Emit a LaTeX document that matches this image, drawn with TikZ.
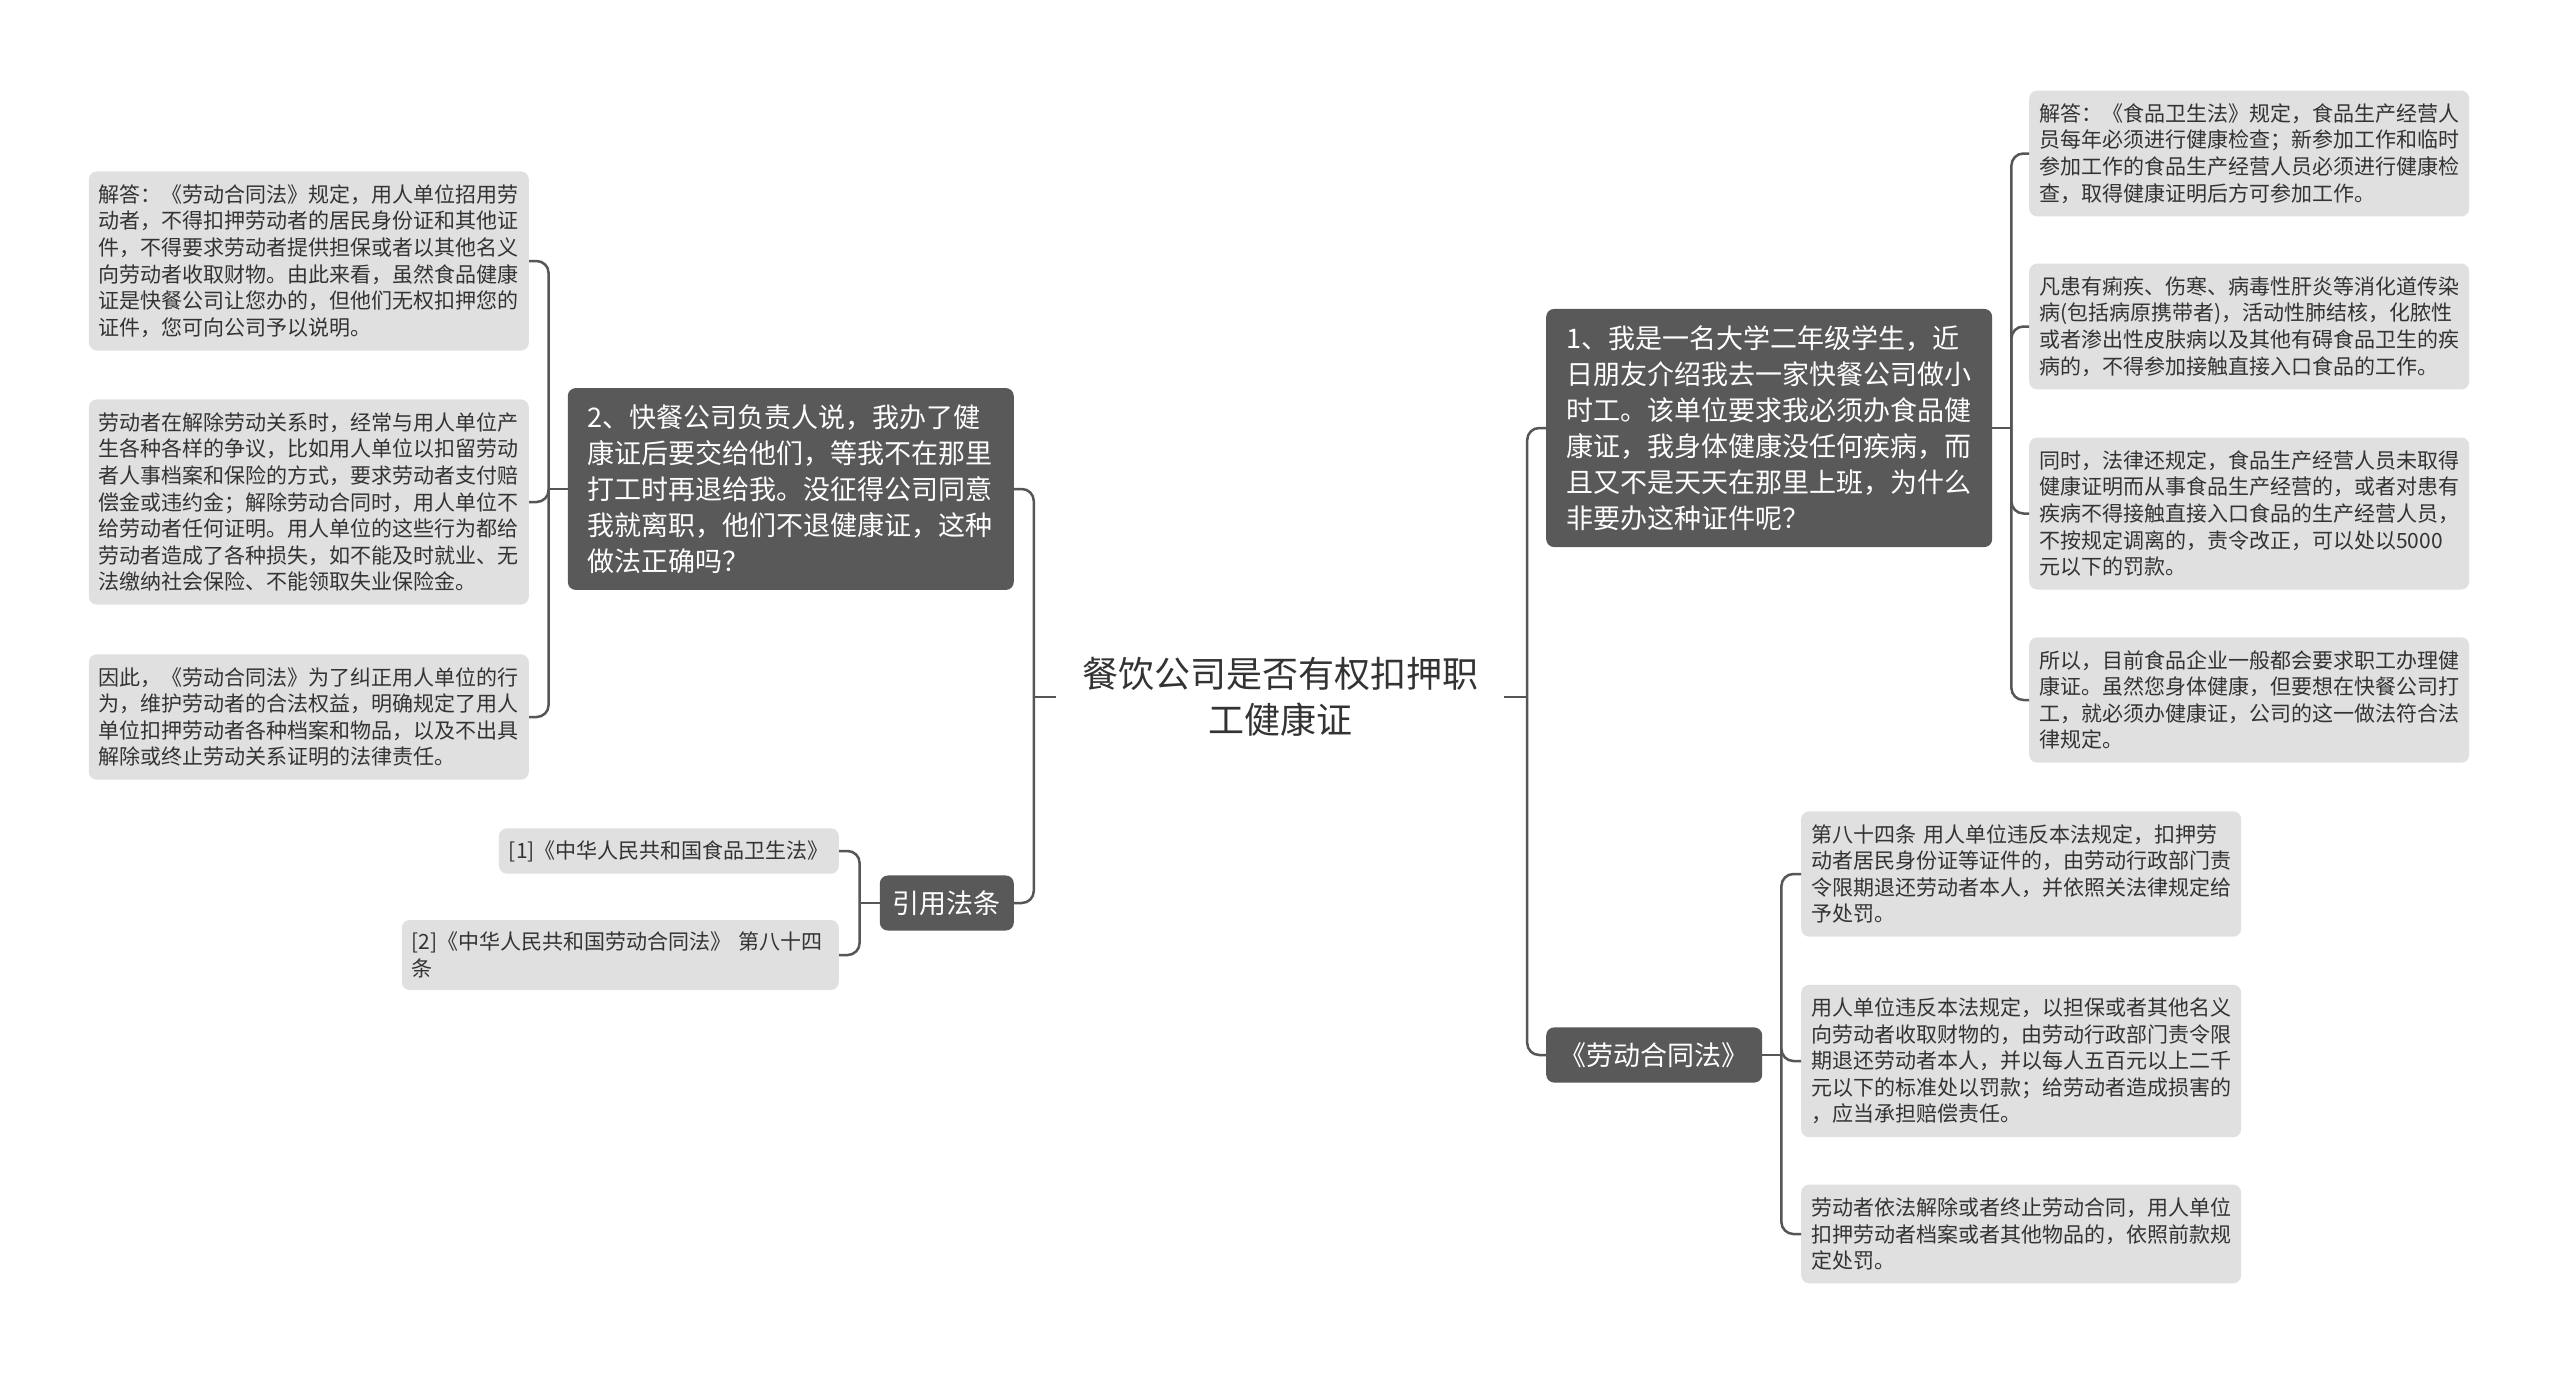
\documentclass[tikz,border=0pt]{standalone}
\usepackage{fontspec}
\setmainfont{Noto Sans CJK SC}
\usetikzlibrary{calc}
\definecolor{darkbox}{HTML}{595959}
\definecolor{leaffill}{HTML}{E0E0E0}
\definecolor{linecol}{HTML}{565656}
\definecolor{txt}{HTML}{333333}
\begin{document}
\begin{tikzpicture}[x=1pt,y=-1pt,
  leaf/.style={fill=leaffill, rounded corners=8pt, text=txt, font=\fontsize{21}{26.6}\selectfont, align=left, text width=420pt, inner xsep=10pt, inner ysep=13pt},
  cite/.style={fill=leaffill, rounded corners=8pt, text=txt, font=\fontsize{21}{26.6}\selectfont, align=left, inner xsep=10pt, inner ysep=12pt},
  topic/.style={fill=darkbox, rounded corners=8pt, text=white, font=\fontsize{27}{36}\selectfont, align=left, inner xsep=20pt, inner ysep=16.5pt},
  conn/.style={draw=linecol, line width=2.5pt, rounded corners=12pt}]
\useasboundingbox (0,0) rectangle (2560,1376);
\fill[white] (0,0) rectangle (2560,1376);

% central topic
\node[text=txt, font=\fontsize{36}{46}\selectfont, align=center, text width=396pt, inner xsep=26pt, inner ysep=8pt] (c) at (1280,697) {餐饮公司是否有权扣押职\\工健康证};

% left main nodes
\node[topic, text width=406pt, anchor=east] (n2) at (1014,489) {2、快餐公司负责人说，我办了健\\康证后要交给他们，等我不在那里\\打工时再退给我。没征得公司同意\\我就离职，他们不退健康证，这种\\做法正确吗？};
\node[topic, inner xsep=13pt, inner ysep=15pt, anchor=east] (yy) at (1014,903) {引用法条};

% right main nodes
\node[topic, text width=406pt, anchor=west] (n1) at (1546,428) {1、我是一名大学二年级学生，近\\日朋友介绍我去一家快餐公司做小\\时工。该单位要求我必须办食品健\\康证，我身体健康没任何疾病，而\\且又不是天天在那里上班，为什么\\非要办这种证件呢？};
\node[topic, inner xsep=13.5pt, inner ysep=15pt, anchor=west] (law) at (1546,1055) {《劳动合同法》};

% leaves of n2
\node[leaf, anchor=east] (l1) at (529,261) {解答：《劳动合同法》规定，用人单位招用劳\\动者，不得扣押劳动者的居民身份证和其他证\\件，不得要求劳动者提供担保或者以其他名义\\向劳动者收取财物。由此来看，虽然食品健康\\证是快餐公司让您办的，但他们无权扣押您的\\证件，您可向公司予以说明。};
\node[leaf, anchor=east] (l2) at (529,502) {劳动者在解除劳动关系时，经常与用人单位产\\生各种各样的争议，比如用人单位以扣留劳动\\者人事档案和保险的方式，要求劳动者支付赔\\偿金或违约金；解除劳动合同时，用人单位不\\给劳动者任何证明。用人单位的这些行为都给\\劳动者造成了各种损失，如不能及时就业、无\\法缴纳社会保险、不能领取失业保险金。};
\node[leaf, anchor=east] (l3) at (529,717) {因此，《劳动合同法》为了纠正用人单位的行\\为，维护劳动者的合法权益，明确规定了用人\\单位扣押劳动者各种档案和物品，以及不出具\\解除或终止劳动关系证明的法律责任。};

% citations
\node[cite, anchor=east] (c1) at (839,851) {[1]《中华人民共和国食品卫生法》};
\node[cite, text width=417pt, anchor=east] (c2) at (839,955) {[2]《中华人民共和国劳动合同法》 第八十四\\条};

% leaves of n1
\node[leaf, anchor=west] (r1) at (2029,153.5) {解答：《食品卫生法》规定，食品生产经营人\\员每年必须进行健康检查；新参加工作和临时\\参加工作的食品生产经营人员必须进行健康检\\查，取得健康证明后方可参加工作。};
\node[leaf, anchor=west] (r2) at (2029,326.5) {凡患有痢疾、伤寒、病毒性肝炎等消化道传染\\病(包括病原携带者)，活动性肺结核，化脓性\\或者渗出性皮肤病以及其他有碍食品卫生的疾\\病的，不得参加接触直接入口食品的工作。};
\node[leaf, anchor=west] (r3) at (2029,513.5) {同时，法律还规定，食品生产经营人员未取得\\健康证明而从事食品生产经营的，或者对患有\\疾病不得接触直接入口食品的生产经营人员，\\不按规定调离的，责令改正，可以处以5000\\元以下的罚款。};
\node[leaf, anchor=west] (r4) at (2029,700) {所以，目前食品企业一般都会要求职工办理健\\康证。虽然您身体健康，但要想在快餐公司打\\工，就必须办健康证，公司的这一做法符合法\\律规定。};

% leaves of law
\node[leaf, anchor=west] (m1) at (1801,874) {第八十四条 用人单位违反本法规定，扣押劳\\动者居民身份证等证件的，由劳动行政部门责\\令限期退还劳动者本人，并依照关法律规定给\\予处罚。};
\node[leaf, anchor=west] (m2) at (1801,1061) {用人单位违反本法规定，以担保或者其他名义\\向劳动者收取财物的，由劳动行政部门责令限\\期退还劳动者本人，并以每人五百元以上二千\\元以下的标准处以罚款；给劳动者造成损害的\\，应当承担赔偿责任。};
\node[leaf, anchor=west] (m3) at (1801,1234) {劳动者依法解除或者终止劳动合同，用人单位\\扣押劳动者档案或者其他物品的，依照前款规\\定处罚。};

% spine coordinates
\coordinate (sL) at ($(c.west)+(-22,0)$);
\coordinate (sR) at ($(c.east)+(23,0)$);
\coordinate (s2) at ($(n2.west)+(-19,0)$);
\coordinate (sY) at ($(yy.west)+(-20,0)$);
\coordinate (s1) at ($(n1.east)+(19,0)$);
\coordinate (sM) at ($(law.east)+(19,0)$);

% connectors
\draw[conn] (c.west) -- (sL);
\draw[conn] (sL) |- (n2.east);
\draw[conn] (sL) |- (yy.east);
\draw[conn] (c.east) -- (sR);
\draw[conn] (sR) |- (n1.west);
\draw[conn] (sR) |- (law.west);

\draw[conn] (n2.west) -- (s2);
\draw[conn] (s2) |- (l1.east);
\draw[conn] (s2) |- (l2.east);
\draw[conn] (s2) |- (l3.east);

\draw[conn] (yy.west) -- (sY);
\draw[conn] (sY) |- (c1.east);
\draw[conn] (sY) |- (c2.east);

\draw[conn] (n1.east) -- (s1);
\draw[conn] (s1) |- (r1.west);
\draw[conn] (s1) |- (r2.west);
\draw[conn] (s1) |- (r3.west);
\draw[conn] (s1) |- (r4.west);

\draw[conn] (law.east) -- (sM);
\draw[conn] (sM) |- (m1.west);
\draw[conn] (sM) |- (m2.west);
\draw[conn] (sM) |- (m3.west);
\end{tikzpicture}
\end{document}
